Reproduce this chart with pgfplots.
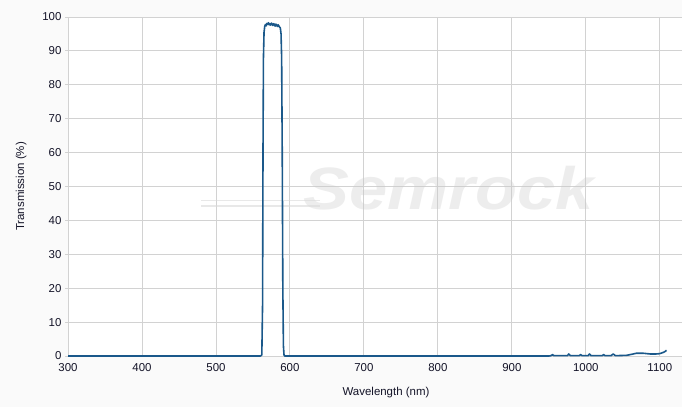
\documentclass[border=0pt]{standalone}
\usepackage{pgfplots}
\pgfplotsset{compat=1.18}
\usepackage{fontspec}
\setmainfont{Liberation Sans}
\definecolor{curve}{RGB}{26,88,138}
\definecolor{gridc}{RGB}{210,210,210}
\definecolor{txt}{RGB}{20,20,40}

\begin{document}
\begin{tikzpicture}[x=1bp,y=1bp]
\fill[gray!4] (0,0) rectangle (682,407);
\useasboundingbox (0,0) rectangle (682,407);
\begin{axis}[
  at={(68bp,51bp)}, anchor=south west,
  scale only axis,
  width=614bp, height=339bp,
  xmin=300, xmax=1130,
  ymin=0, ymax=100,
  xtick={300,400,...,1100},
  ytick={0,10,...,100},
  axis background/.style={fill=white},
  axis x line*=bottom, axis y line*=left,
  axis line style={draw=gridc,line width=1bp,-},
  grid=major,
  grid style={draw=gridc,line width=0.9bp},
  xtick style={draw=none},
  ytick style={draw=gridc,line width=0.9bp},
  tick align=outside,
  major tick length=3bp,
  tick label style={font=\fontsize{11.5}{13}\selectfont,text=txt},
  /pgf/number format/assume math mode=true,
  /pgf/number format/1000 sep={},
  xticklabel style={yshift=-1bp},
  label style={font=\fontsize{11.5}{13}\selectfont,text=txt},
  xlabel={Wavelength (nm)},
  ylabel={Transmission (\%)},
  xlabel style={yshift=-9bp,xshift=11bp},
  ylabel style={yshift=9bp},
  clip=false,
]
\node[font=\fontsize{60}{60}\selectfont\bfseries\itshape, text=gray!40, opacity=0.35, xscale=1.15]
  at (axis cs:815,49.5) {Semrock};
\draw[gray!30,opacity=0.6,line width=1.5bp] (axis cs:480,44.3) -- (axis cs:640,44.3);
\draw[gray!30,opacity=0.6,line width=1.5bp] (axis cs:480,45.9) -- (axis cs:640,45.9);
\addplot[curve, line width=1.6bp, line join=round] coordinates {
(300,0) (400,0) (500,0) (560,0) (562,0.3) (563,15) (563.6,60) (564.2,88)
(565,95.5) (566,97.3) (567,97.8) (568,97.4) (569,98.1) (570,97.9)
(571,98.3) (572,97.7) (573,98.0) (574,97.6) (575,98.2) (576,97.9)
(577,97.5) (578,98.0) (579,97.8) (580,97.3) (581,97.9) (582,97.6)
(583,97.2) (584,97.7) (585,97.4) (586,97.0) (587,96.8) (588,95.0)
(588.8,88) (589.6,60) (590.4,20) (591.2,3) (592,0.3) (593,0)
(700,0) (800,0) (900,0) (950,0) (953,0.1) (955,0.4) (957,0.1)
(975,0.1) (977,0.6) (979,0.1) (991,0.1) (993,0.4) (995,0.1)
(1003,0.1) (1005,0.6) (1007,0.1) (1022,0.1) (1024,0.4) (1026,0.1)
(1034,0.1) (1037,0.6) (1040,0.1) (1055,0.2) (1062,0.5) (1068,0.8)
(1078,0.8) (1087,0.6) (1095,0.6) (1100,0.7) (1104,1.0) (1107,1.3) (1109,1.7)
};
\end{axis}
\end{tikzpicture}
\end{document}
